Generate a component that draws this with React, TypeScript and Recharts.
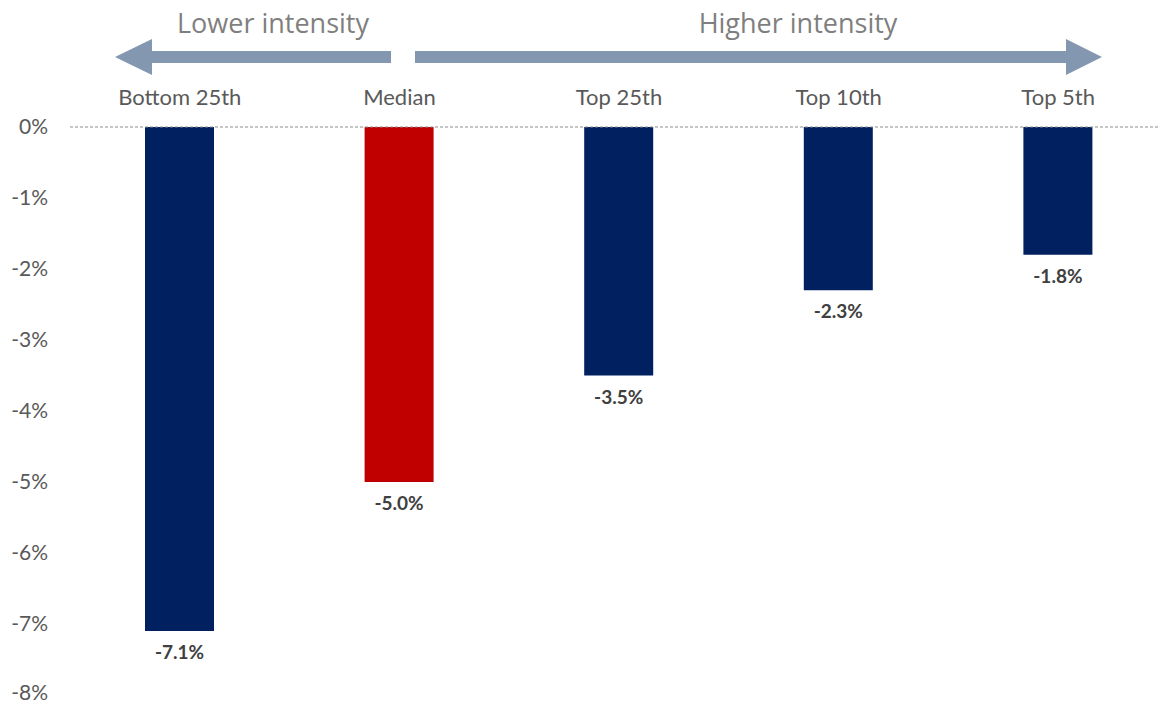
import React from "react";
import {
	BarChart,
	Bar,
	XAxis,
	YAxis,
	Cell,
	LabelList,
	ReferenceLine,
	Customized,
} from "recharts";

const groups = ["Bottom 25th", "Median", "Top 25th", "Top 10th", "Top 5th"];
const changes = [-7.1, -5.0, -3.5, -2.3, -1.8];
const yTicks = [0, -1, -2, -3, -4, -5, -6, -7, -8];
const highlight = "Median";

const data = groups.map((g, i) => ({ group: g, change: changes[i] }));

const NAVY = "#002060";
const RED = "#C00000";
const ARROW = "#8497B0";

const Arrows = () => (
	<g>
		{/* left arrow */}
		<polygon
			points="115,57 152,39 152,51 391,51 391,63 152,63 152,75"
			fill={ARROW}
		/>
		{/* right arrow */}
		<polygon
			points="415,51 1066,51 1066,39 1102,57 1066,75 1066,63 415,63"
			fill={ARROW}
		/>
		<text
			x={273}
			y={33}
			textAnchor="middle"
			fontFamily="Open Sans"
			fontSize={27}
			fill="#7F7F7F"
		>
			Lower intensity
		</text>
		<text
			x={798}
			y={33}
			textAnchor="middle"
			fontFamily="Open Sans"
			fontSize={27}
			fill="#7F7F7F"
		>
			Higher intensity
		</text>
	</g>
);

const ValueLabel = (props: any) => {
	const { x, y, width, height, value } = props;
	const bottom = Math.max(y, y + height);
	return (
		<text
			x={x + width / 2}
			y={bottom + 28}
			textAnchor="middle"
			fontFamily="Lato"
			fontWeight={700}
			fontSize={19}
			fill="#404040"
		>
			{`${value.toFixed(1)}%`}
		</text>
	);
};

export default function App() {
	return (
		<div
			style={{
				position: "absolute",
				left: 0,
				top: 0,
				width: 1159,
				height: 705,
				overflow: "hidden",
				background: "#fff",
			}}
		>
			<BarChart
				width={1168}
				height={705}
				data={data}
				margin={{ top: 87, right: 0, bottom: 10, left: 0 }}
			>
				<XAxis
					dataKey="group"
					orientation="top"
					height={40}
					axisLine={false}
					tickLine={false}
					tickMargin={16}
					interval={0}
					tick={{ fill: "#595959", fontSize: 22, fontFamily: "Lato" }}
				/>
				<YAxis
					type="number"
					domain={[-8, 0]}
					ticks={yTicks}
					width={70}
					axisLine={false}
					tickLine={false}
					tickMargin={16}
					tickFormatter={(v: number) => `${v}%`}
					tick={{ fill: "#595959", fontSize: 21, fontFamily: "Lato" }}
				/>
				<ReferenceLine
					y={0}
					stroke="#8C8C8C"
					strokeDasharray="3 2"
				/>
				<Bar dataKey="change" barSize={69} isAnimationActive={false}>
					{data.map((d) => (
						<Cell
							key={d.group}
							fill={d.group === highlight ? RED : NAVY}
						/>
					))}
					<LabelList dataKey="change" content={ValueLabel} />
				</Bar>
				<Customized component={Arrows} />
			</BarChart>
		</div>
	);
}
